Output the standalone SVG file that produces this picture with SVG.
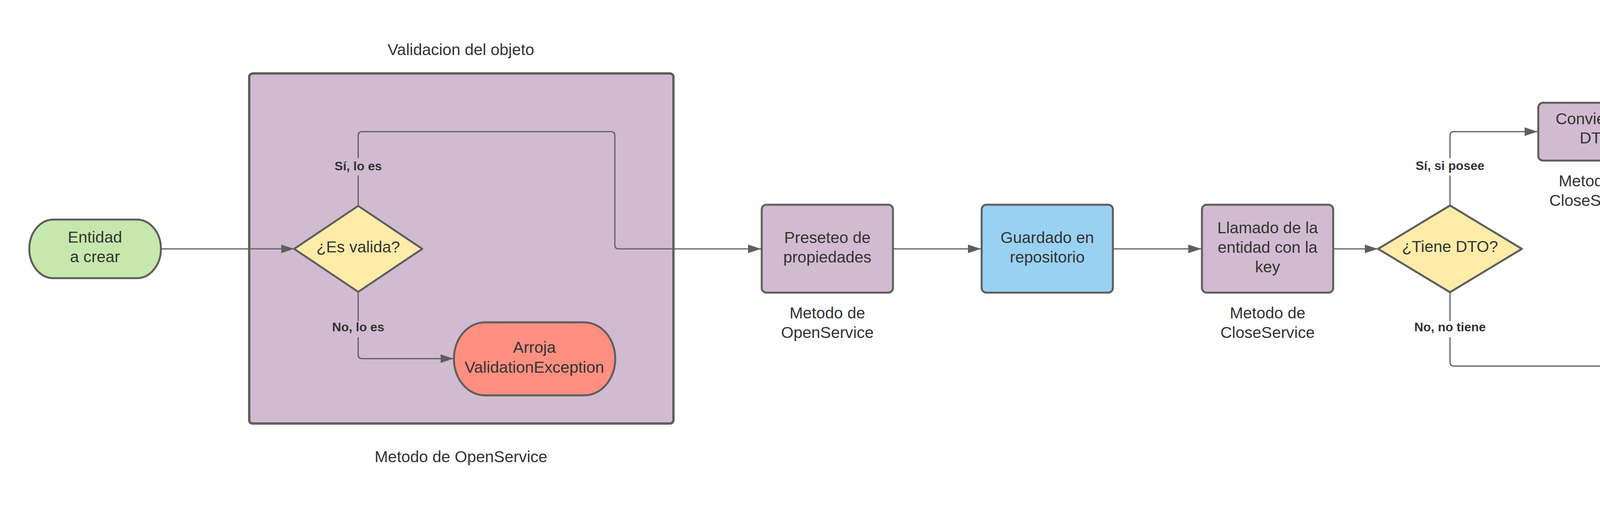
<svg xmlns="http://www.w3.org/2000/svg" width="4997" height="1331" viewBox="0 0 4997 1331">
<defs>
<marker id="arr" markerUnits="userSpaceOnUse" markerWidth="34" markerHeight="24" refX="33" refY="11" orient="auto">
<path d="M0,0 L33,11 L0,22 Z" fill="#5e5e5e"/>
</marker>
<style>
.t{font-family:"Liberation Sans",Arial,sans-serif;font-size:41px;fill:#333333;text-anchor:middle}
.lb{font-family:"Liberation Sans",Arial,sans-serif;font-size:32px;font-weight:bold;fill:#333333;text-anchor:middle}
.sh{stroke:#5e5e5e;stroke-width:5;stroke-linejoin:round}
.c{fill:none;stroke:#5e5e5e;stroke-width:3}
.ca{fill:none;stroke:#5e5e5e;stroke-width:3;marker-end:url(#arr)}
.pur{fill:#d1bbd1}
.yel{fill:#ffeca9}
.grn{fill:#c7e8ac}
.blu{fill:#99d1f2}
.red{fill:#ff8f80}
</style>
</defs>
<rect width="4997" height="1331" fill="#ffffff"/>

<g id="container">
<rect x="638" y="188" width="1086" height="896" rx="9" class="pur" stroke="#5e5e5e" stroke-width="6"/>
<text class="t" x="1180" y="141">Validacion del objeto</text>
<text class="t" x="1180" y="1183">Metodo de OpenService</text>
</g>

<g id="connectors">
<path class="ca" d="M412,637 H753"/>
<path class="ca" d="M917,527 V449 M917,405 V347 Q917,337 927,337 H1564 Q1574,337 1574,347 V627 Q1574,637 1584,637 H1948"/>
<path class="ca" d="M917,747 V822 M917,863 V908 Q917,918 927,918 H1161"/>
<path class="ca" d="M2288,637 H2511"/>
<path class="ca" d="M2851,637 H3075"/>
<path class="ca" d="M3415,637 H3527"/>
<path class="ca" d="M3712,526 V449 M3712,405 V347 Q3712,337 3722,337 H3936"/>
<path class="ca" d="M4238,337 H4451 Q4461,337 4461,347 V627 Q4461,637 4471,637 H4581"/>
<path class="c" d="M3712,748 V822 M3712,863 V927 Q3712,937 3722,937 H4451 Q4461,937 4461,927 V647 Q4461,637 4471,637"/>
<text class="lb" x="917" y="436">Sí, lo es</text>
<text class="lb" x="917" y="848">No, lo es</text>
<text class="lb" x="3712" y="435">Sí, si posee</text>
<text class="lb" x="3712" y="848">No, no tiene</text>
</g>

<g id="entidad">
<rect x="75" y="562" width="337" height="150" rx="62" ry="75" class="sh grn"/>
<text class="t" x="243" y="621">Entidad</text>
<text class="t" x="243" y="671">a crear</text>
</g>

<g id="es-valida">
<polygon points="917,527 1081,637 917,747 753,637" class="sh yel"/>
<text class="t" x="917" y="646">¿Es valida?</text>
</g>

<g id="arroja">
<rect x="1162" y="825" width="413" height="187" rx="80" ry="93" class="sh red"/>
<text class="t" x="1368" y="903">Arroja</text>
<text class="t" x="1368" y="954">ValidationException</text>
</g>

<g id="preseteo">
<rect x="1950" y="524" width="336" height="225" rx="12" class="sh pur"/>
<text class="t" x="2118" y="622">Preseteo de</text>
<text class="t" x="2118" y="672">propiedades</text>
<text class="t" x="2118" y="815">Metodo de</text>
<text class="t" x="2118" y="865">OpenService</text>
</g>

<g id="guardado">
<rect x="2513" y="524" width="336" height="225" rx="12" class="sh blu"/>
<text class="t" x="2681" y="622">Guardado en</text>
<text class="t" x="2681" y="672">repositorio</text>
</g>

<g id="llamado">
<rect x="3077" y="524" width="336" height="225" rx="12" class="sh pur"/>
<text class="t" x="3245" y="597">Llamado de la</text>
<text class="t" x="3245" y="647">entidad con la</text>
<text class="t" x="3245" y="697">key</text>
<text class="t" x="3245" y="815">Metodo de</text>
<text class="t" x="3245" y="865">CloseService</text>
</g>

<g id="tiene-dto">
<polygon points="3712,526 3896,637 3712,748 3528,637" class="sh yel"/>
<text class="t" x="3712" y="645">¿Tiene DTO?</text>
</g>

<g id="convierte">
<rect x="3938" y="263" width="299" height="148" rx="12" class="sh pur"/>
<text class="t" x="4087" y="318">Convierte a</text>
<text class="t" x="4087" y="367">DTO</text>
<text class="t" x="4087" y="477">Metodo de</text>
<text class="t" x="4087" y="527">CloseService</text>
</g>

<g id="retorna">
<rect x="4583" y="562" width="335" height="150" rx="65" ry="75" class="sh grn"/>
<text class="t" x="4750" y="651">Retorna entidad</text>
</g>
</svg>
